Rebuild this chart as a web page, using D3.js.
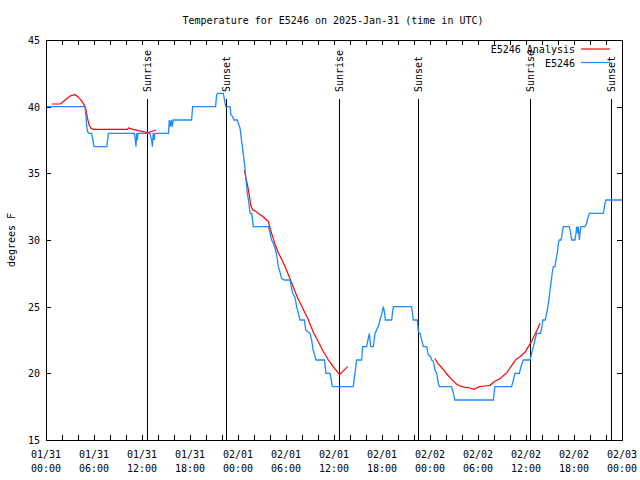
<!DOCTYPE html>
<html><head><meta charset="utf-8">
<script src="https://cdn.jsdelivr.net/npm/d3@7"></script>
<style>
body{margin:0;background:#fff}
text{font-family:"DejaVu Sans Mono",monospace;font-size:10px;fill:#000}
</style></head>
<body><svg id="c" width="640" height="480"></svg>
<script>
const titleText = "Temperature for E5246 on 2025-Jan-31 (time in UTC)";
const yLabelText = "degrees F";
const yTicks = [15, 20, 25, 30, 35, 40, 45];
const xLabelHours = [0, 6, 12, 18, 24, 30, 36, 42, 48, 54, 60, 66, 72];
const xLabelDates = ["01/31","01/31","01/31","01/31","02/01","02/01","02/01","02/01","02/02","02/02","02/02","02/02","02/03"];
const xLabelTimes = ["00:00","06:00","12:00","18:00","00:00","06:00","12:00","18:00","00:00","06:00","12:00","18:00","00:00"];
const sunHours = [12.66, 22.5, 36.66, 46.55, 60.5, 70.6];
const sunNames = ["Sunrise","Sunset","Sunrise","Sunset","Sunrise","Sunset"];
const seriesNames = ["E5246 Analysis", "E5246"];

// observed (blue) series: hours since 01/31 00:00 UTC, temperature F
const obsHours = [0,4.87,4.95,5.08,5.2,5.4,5.7,5.83,6.0,7.6,7.8,11.04,11.17,11.25,11.33,11.42,11.5,13.0,13.2,13.3,13.4,13.54,13.6,15.3,15.42,15.54,15.67,15.79,15.9,18.2,18.33,21.2,21.33,21.46,22.17,22.29,22.46,23.0,23.12,23.33,23.5,23.9,24.25,24.46,24.67,24.87,25.0,25.17,25.37,25.5,25.71,25.92,27.8,28.0,28.2,28.42,28.62,28.83,29.04,29.25,29.46,29.8,30.5,30.67,30.83,31.1,31.33,31.75,32.3,32.46,33.0,33.2,33.4,33.75,34.8,35.0,35.5,35.8,38.4,38.62,38.83,39.46,39.58,40.08,40.33,40.42,40.58,40.92,41.12,41.54,41.75,42.0,42.17,42.33,42.42,43.2,43.42,45.7,45.92,46.42,46.54,46.75,47.0,47.17,47.58,47.8,48.08,48.21,48.42,48.62,48.83,49.04,49.17,50.7,50.92,51.12,55.92,56.12,58.2,58.42,58.62,59.17,59.37,59.67,60.5,60.71,60.92,61.12,61.33,61.83,62.0,62.1,62.4,62.5,62.67,62.79,62.92,63.0,63.12,63.21,63.33,63.42,63.62,63.75,63.83,63.96,64.04,64.17,64.37,64.46,64.58,64.67,65.42,65.58,65.71,66.12,66.25,66.33,66.46,66.54,66.67,66.75,66.87,67.37,67.58,67.67,67.79,67.92,69.67,69.75,69.87,70.0,72.0];
const obsTemps = [40,40,39.6,38.6,38.1,38,38,37.6,37,37,38,38,37.5,37,38,37.5,38,38,37.5,37,38,37.5,38,38,39,38.5,39,38.5,39,39,40,40,40.9,41,41,40.6,40,40,39.4,39.25,39,39,38.4,37.4,36.4,35.4,34.5,33.5,32.75,32,32,31,31,30.6,30,29.75,29.4,28.9,28,27.6,27.1,27,27,26.5,26,25.75,25,24,24,23.25,23,22.5,21.75,21,21,20,20,19,19,20,21,21,22,22,22.75,23,22,22,23,23.5,24,24.5,25,24.5,24,24,25,25,24,24,23.1,23,22.4,22,22,21.4,21.25,21,20.9,20.25,20,19.25,19,19,18.5,18,18,19,19,19.5,20,20,20.5,21,21,21.5,22,22.5,23,23,23.5,24,24,24.25,24.75,25.25,25.75,26.25,26.75,27.2,27.75,28,28,28.5,28.75,29.25,29.75,30,30,30.25,30.75,31,31,30.5,30,30,30.5,31,30.5,31,30,30.5,31,31,31.25,31.5,31.75,32,32,32.25,32.75,33,33];

// analysis (red) series, null = gap
const anaHours = [0.7,1.8,2.4,3.0,3.6,4.0,4.5,4.8,5.0,5.2,5.4,5.6,5.9,10.2,10.3,10.9,11.5,12.0,12.6,13.0,13.75,null,
  24.8,24.96,25.2,25.4,25.6,25.8,26.3,27.0,27.6,27.8,28.0,28.2,28.6,29.0,29.7,30.3,30.9,31.5,32.2,32.8,33.4,34.0,34.7,35.3,35.9,36.3,36.7,37.2,37.7,null,
  48.6,49.0,49.5,50.1,50.7,51.3,51.75,52.4,53.0,53.5,53.8,54.25,54.9,55.5,56.1,56.75,57.6,58.0,58.4,58.75,59.25,59.9,60.3,60.7,61.1,61.5,61.75];
const anaTemps = [40.2,40.2,40.5,40.8,40.9,40.75,40.4,40.1,39.75,39.1,38.6,38.4,38.3,38.3,38.4,38.3,38.2,38.15,38.05,38.1,38.25,null,
  35.25,34.75,34.1,33.4,32.6,32.3,32.1,31.8,31.5,31.4,30.9,30.5,29.75,29.1,28.25,27.4,26.5,25.6,24.75,24,23.1,22.4,21.6,21,20.5,20.2,19.9,20.2,20.5,null,
  21.1,20.75,20.4,19.95,19.55,19.2,19.05,18.95,18.9,18.8,18.9,19.0,19.05,19.1,19.4,19.6,20.05,20.4,20.75,21.05,21.25,21.6,22,22.4,22.9,23.4,23.75];

const colors = ["#ff0000", "#1a8cff"];
const L = 46, R = 622, T = 40, B = 440;
const svg = d3.select("#c");
const x = d3.scaleLinear().domain([0, 72]).range([L, R]);
const y = d3.scaleLinear().domain([15, 45]).range([B, T]);

// title
svg.append("text").attr("x", 333).attr("y", 24).attr("text-anchor", "middle").text(titleText);
// y label
svg.append("text").attr("transform", "translate(15,240) rotate(-90)").attr("text-anchor", "middle").text(yLabelText);

const axes = svg.append("g").attr("shape-rendering", "crispEdges");
const xt = d3.range(0, 73, 2);
axes.append("g").attr("transform", `translate(0,${B})`)
  .call(d3.axisBottom(x).tickValues(xt).tickSize(-5).tickFormat(""))
  .call(g => g.select(".domain").remove());
axes.append("g").attr("transform", `translate(0,${T})`)
  .call(d3.axisTop(x).tickValues(xt).tickSize(-5).tickFormat(""))
  .call(g => g.select(".domain").remove());
axes.append("g").attr("transform", `translate(${L},0)`)
  .call(d3.axisLeft(y).tickValues(yTicks).tickSize(-5).tickFormat(""))
  .call(g => g.select(".domain").remove());
axes.append("g").attr("transform", `translate(${R},0)`)
  .call(d3.axisRight(y).tickValues(yTicks).tickSize(-5).tickFormat(""))
  .call(g => g.select(".domain").remove());
axes.selectAll("line").attr("stroke", "#000");

// y labels
svg.append("g").selectAll("text").data(yTicks).join("text")
  .attr("x", 40).attr("y", d => y(d) + 4).attr("text-anchor", "end").text(d => d);
// x labels
const xl = svg.append("g").selectAll("text").data(xLabelHours).join("text")
  .attr("text-anchor", "middle");
xl.append("tspan").attr("x", d => x(d)).attr("y", 458).text((d, i) => xLabelDates[i]);
xl.append("tspan").attr("x", d => x(d)).attr("y", 472).text((d, i) => xLabelTimes[i]);

// sun lines
const sg = svg.append("g");
sg.selectAll("line").data(sunHours).join("line")
  .attr("x1", d => Math.round(x(d)) + 0.5).attr("x2", d => Math.round(x(d)) + 0.5)
  .attr("y1", 99).attr("y2", B).attr("stroke", "#000").attr("stroke-width", 1);
sg.selectAll("text").data(sunHours).join("text")
  .attr("transform", d => `translate(${Math.round(x(d)) + 4},92) rotate(-90)`)
  .attr("text-anchor", "start").text((d, i) => sunNames[i]);

// data lines
const obs = obsHours.map((h, i) => ({h, t: obsTemps[i]}));
const ana = anaHours.map((h, i) => ({h, t: anaTemps[i]}));
const line = d3.line().defined(d => d.h != null && d.t != null).x(d => x(d.h)).y(d => y(d.t));
svg.append("path").datum(ana).attr("d", line).attr("fill", "none").attr("stroke", colors[0]).attr("stroke-width", 1.2);
svg.append("path").datum(obs).attr("d", line).attr("fill", "none").attr("stroke", colors[1]).attr("stroke-width", 1.3);

// border
svg.append("rect").attr("x", L + 0.5).attr("y", T + 0.5).attr("width", R - L).attr("height", B - T)
  .attr("fill", "none").attr("stroke", "#000").attr("shape-rendering", "crispEdges");

// legend
const lg = svg.append("g");
seriesNames.forEach((n, i) => {
  const ly = 49 + i * 13.5;
  lg.append("text").attr("x", 575).attr("y", ly + 4).attr("text-anchor", "end").text(n);
  lg.append("line").attr("x1", 581).attr("x2", 610).attr("y1", ly).attr("y2", ly)
    .attr("stroke", colors[i]).attr("stroke-width", 1.2);
});
</script></body></html>
